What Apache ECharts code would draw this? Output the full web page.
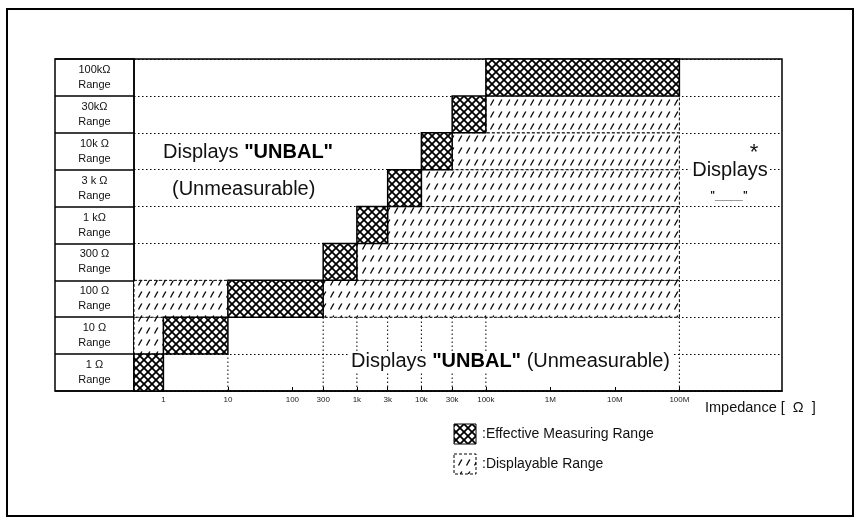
<!DOCTYPE html>
<html><head><meta charset="utf-8">
<script src="https://cdn.jsdelivr.net/npm/echarts@6/dist/echarts.min.js"></script>
<style>html,body{margin:0;padding:0;background:#fff}#c{width:859px;height:525px}</style>
</head><body><div id="c"></div>
<script>
// ---- data ----
const rangeLabels = ['1 Ω', '10 Ω', '100 Ω', '300 Ω', '1 kΩ', '3 k Ω', '10k Ω', '30kΩ', '100kΩ'];
const effectiveRanges = [[0.35, 1], [1, 10], [10, 300], [300, 1e3], [1e3, 3e3], [3e3, 1e4], [1e4, 3e4], [3e4, 1e5], [1e5, 1e8]];
const displayableRanges = [[], [[0.35, 1]], [[0.35, 10], [300, 1e8]], [[1e3, 1e8]], [[3e3, 1e8]], [[1e4, 1e8]], [[3e4, 1e8]], [[1e5, 1e8]], []];
const tickValues = [1, 10, 100, 300, 1e3, 3e3, 1e4, 3e4, 1e5, 1e6, 1e7, 1e8];
const tickLabels = ['1', '10', '100', '300', '1k', '3k', '10k', '30k', '100k', '1M', '10M', '100M'];
const guideValues = [10, 300, 1e3, 3e3, 1e4, 3e4, 1e5, 1e8];
const guideTopRow = [1, 2, 2, 2, 2, 2, 2, 2];
const axisMinOhm = 0.35, axisMaxOhm = 3.9e9;

// ---- patterns ----
function makeCross() {
  const c = document.createElement('canvas'); c.width = 8; c.height = 8;
  const g = c.getContext('2d');
  g.fillStyle = '#fff'; g.fillRect(0, 0, 8, 8);
  g.strokeStyle = '#000'; g.lineWidth = 1.8;
  g.beginPath(); g.moveTo(-1, -1); g.lineTo(9, 9); g.moveTo(9, -1); g.lineTo(-1, 9); g.stroke();
  return c;
}
function makeDiag() {
  const c = document.createElement('canvas'); c.width = 8; c.height = 12;
  const g = c.getContext('2d');
  g.fillStyle = '#fff'; g.fillRect(0, 0, 8, 12);
  g.strokeStyle = '#000'; g.lineWidth = 1.3;
  g.beginPath(); g.moveTo(2.5, 9.5); g.lineTo(5.8, 3.5); g.stroke();
  return c;
}
const crossPat = { image: makeCross(), repeat: 'repeat' };
const diagPat = { image: makeDiag(), repeat: 'repeat' };

const L = Math.log10;
const effData = effectiveRanges.map((r, i) => [L(r[0]), L(r[1]), i]);
const dispData = [];
displayableRanges.forEach((rs, i) => rs.forEach(r => dispData.push([L(r[0]), L(r[1]), i])));
const guideData = guideValues.map((v, i) => [L(v), guideTopRow[i]]);

function rectRenderer(pat, dashed) {
  return function (params, api) {
    const p0 = api.coord([api.value(0), api.value(2) + 1]);
    const p1 = api.coord([api.value(1), api.value(2)]);
    return {
      type: 'rect',
      shape: { x: p0[0], y: p0[1], width: p1[0] - p0[0], height: p1[1] - p0[1] },
      style: { fill: pat, stroke: '#000', lineWidth: dashed ? 1 : 1.5, lineDash: dashed ? [3, 2] : null }
    };
  };
}

const FONT = '"Liberation Sans", Arial, sans-serif';
const chart = echarts.init(document.getElementById('c'), null, { renderer: 'canvas' });
chart.setOption({
  animation: false,
  backgroundColor: '#fff',
  grid: [
    { left: 134, right: 77, top: 59, bottom: 134, show: true, borderColor: '#000', borderWidth: 1.5, backgroundColor: 'transparent' },
    { left: 55, width: 79, top: 59, bottom: 134, show: true, borderColor: '#000', borderWidth: 1.5 }
  ],
  xAxis: [
    {
      type: 'value', gridIndex: 0, min: L(axisMinOhm), max: L(axisMaxOhm),
      axisLine: { show: true, onZero: false, lineStyle: { color: '#000', width: 1.5 } },
      axisTick: { show: true, inside: true, length: 4, customValues: tickValues.map(L), lineStyle: { color: '#000' } },
      axisLabel: {
        customValues: tickValues.map(L), margin: 5, fontSize: 8, color: '#222', fontFamily: FONT,
        formatter: v => { const i = tickValues.findIndex(t => Math.abs(L(t) - v) < 1e-6); return i >= 0 ? tickLabels[i] : ''; }
      },
      splitLine: { show: false }
    },
    { type: 'value', gridIndex: 1, min: 0, max: 1, show: false }
  ],
  yAxis: [
    {
      type: 'value', gridIndex: 0, min: 0, max: 9, interval: 1,
      axisLine: { show: false }, axisTick: { show: false }, axisLabel: { show: false },
      splitLine: { show: true, lineStyle: { color: '#000', width: 1, type: [1.5, 2.5] } }
    },
    {
      type: 'value', gridIndex: 1, min: 0, max: 9, interval: 1,
      axisLine: { show: false }, axisTick: { show: false },
      splitLine: { show: true, lineStyle: { color: '#000', width: 1.5 } },
      axisLabel: {
        customValues: rangeLabels.map((_, i) => i + 0.5), inside: true, margin: 39.5, align: 'center',
        fontSize: 11, lineHeight: 15, color: '#111', fontFamily: FONT,
        formatter: v => rangeLabels[Math.floor(v)] + '\nRange'
      }
    }
  ],
  series: [
    {
      type: 'custom', xAxisIndex: 0, yAxisIndex: 0, data: guideData, z: 2,
      encode: { x: 0, y: 1 },
      renderItem: (params, api) => {
        const a = api.coord([api.value(0), 0]), b = api.coord([api.value(0), api.value(1)]);
        return { type: 'line', shape: { x1: a[0], y1: a[1], x2: b[0], y2: b[1] }, style: { stroke: '#000', lineWidth: 1, lineDash: [1.5, 2.5] } };
      }
    },
    { type: 'custom', xAxisIndex: 0, yAxisIndex: 0, data: dispData, z: 3, encode: { x: [0, 1], y: 2 }, renderItem: rectRenderer(diagPat, true) },
    { type: 'custom', xAxisIndex: 0, yAxisIndex: 0, data: effData, z: 4, encode: { x: [0, 1], y: 2 }, renderItem: rectRenderer(crossPat, false) }
  ],
  graphic: [
    { type: 'rect', shape: { x: 7, y: 9, width: 846, height: 507 }, style: { fill: 'none', stroke: '#000', lineWidth: 2 }, z: 0 },
    { type: 'text', x: 163, y: 152, z: 10, style: { text: '{a|Displays }{b|"UNBAL"}', verticalAlign: 'middle', rich: { a: { fontSize: 20, fontFamily: FONT, fill: '#111' }, b: { fontSize: 20, fontFamily: FONT, fontWeight: 'bold', fill: '#000' } } } },
    { type: 'text', x: 172, y: 189, z: 10, style: { text: '(Unmeasurable)', fontSize: 20, fontFamily: FONT, fill: '#111', verticalAlign: 'middle' } },
    { type: 'text', x: 348, y: 361, z: 10, style: { text: '{a|Displays }{b|"UNBAL"}{a| (Unmeasurable)}', verticalAlign: 'middle', backgroundColor: '#fff', padding: [0, 3], rich: { a: { fontSize: 20, fontFamily: FONT, fill: '#111' }, b: { fontSize: 20, fontFamily: FONT, fontWeight: 'bold', fill: '#000' } } } },
    { type: 'text', x: 730, y: 170, z: 10, style: { text: 'Displays', fontSize: 20, fontFamily: FONT, fill: '#111', align: 'center', verticalAlign: 'middle', backgroundColor: '#fff', padding: [0, 2] } },
    { type: 'text', x: 754, y: 153, z: 11, style: { text: '*', fontSize: 22, fontFamily: FONT, fill: '#111', align: 'center', verticalAlign: 'middle' } },
    { type: 'text', x: 729, y: 196, z: 10, style: { text: '"_____"', fontSize: 10, fontFamily: FONT, fontWeight: 'bold', fill: '#111', align: 'center', verticalAlign: 'middle' } },
    { type: 'text', x: 705, y: 408, z: 10, style: { text: 'Impedance [  Ω  ]', fontSize: 14.5, fontFamily: FONT, fill: '#111', verticalAlign: 'middle' } },
    { type: 'rect', shape: { x: 454, y: 424, width: 22, height: 20 }, style: { fill: crossPat, stroke: '#000', lineWidth: 1 }, z: 10 },
    { type: 'text', x: 482, y: 434, z: 10, style: { text: ':Effective Measuring Range', fontSize: 14, fontFamily: FONT, fill: '#111', verticalAlign: 'middle' } },
    { type: 'rect', shape: { x: 454, y: 454, width: 22, height: 20 }, style: { fill: diagPat, stroke: '#000', lineWidth: 1, lineDash: [3, 2] }, z: 10 },
    { type: 'text', x: 482, y: 464, z: 10, style: { text: ':Displayable Range', fontSize: 14, fontFamily: FONT, fill: '#111', verticalAlign: 'middle' } }
  ]
});
</script>
</body></html>
